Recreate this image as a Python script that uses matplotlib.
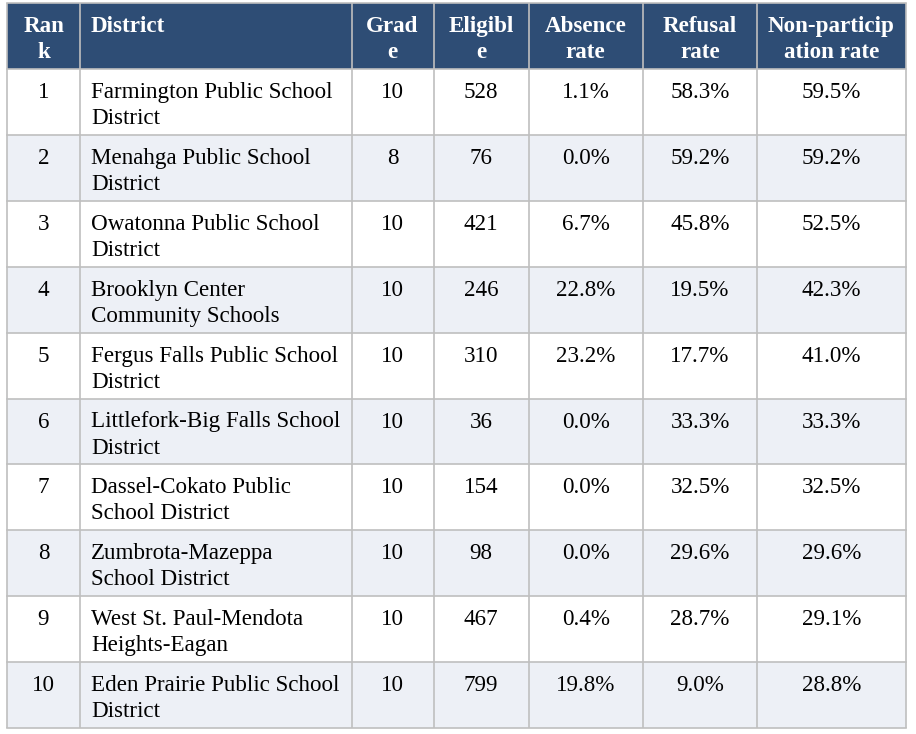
import matplotlib.pyplot as plt
from matplotlib.patches import Rectangle

headers = ["Ran\nk", "District", "Grad\ne", "Eligibl\ne", "Absence\nrate", "Refusal\nrate",
           "Non-particip\nation rate"]
ranks = [1, 2, 3, 4, 5, 6, 7, 8, 9, 10]
districts = [
    "Farmington Public School\nDistrict",
    "Menahga Public School\nDistrict",
    "Owatonna Public School\nDistrict",
    "Brooklyn Center\nCommunity Schools",
    "Fergus Falls Public School\nDistrict",
    "Littlefork-Big Falls School\nDistrict",
    "Dassel-Cokato Public\nSchool District",
    "Zumbrota-Mazeppa\nSchool District",
    "West St. Paul-Mendota\nHeights-Eagan",
    "Eden Prairie Public School\nDistrict",
]
grades = [10, 8, 10, 10, 10, 10, 10, 10, 10, 10]
eligible = [528, 76, 421, 246, 310, 36, 154, 98, 467, 799]
absence = [1.1, 0.0, 6.7, 22.8, 23.2, 0.0, 0.0, 0.0, 0.4, 19.8]
refusal = [58.3, 59.2, 45.8, 19.5, 17.7, 33.3, 32.5, 29.6, 28.7, 9.0]
nonpart = [59.5, 59.2, 52.5, 42.3, 41.0, 33.3, 32.5, 29.6, 29.1, 28.8]

# layout in pixels
col_edges = [7, 80, 351.5, 433.5, 528.5, 643, 757, 906]
top = 3
header_h = 66
row_h = 65.9
line_gap = 26
base_off = 29
pad_left = 11

header_color = "#2E4D75"
alt_color = "#EDF0F6"
border = "#BFBFBF"
font = "Liberation Serif"
fs = 16.6

fig = plt.figure(figsize=(9.16, 7.34), dpi=100)
ax = fig.add_axes([0, 0, 1, 1])
ax.set_xlim(0, 916)
ax.set_ylim(734, 0)
ax.axis("off")

n_rows = len(ranks)
bottom = top + header_h + n_rows * row_h
left, right = col_edges[0], col_edges[-1]

# backgrounds
ax.add_patch(Rectangle((left, top), right - left, header_h, color=header_color, lw=0))
for i in range(n_rows):
    y0 = top + header_h + i * row_h
    fc = alt_color if i % 2 == 1 else "white"
    ax.add_patch(Rectangle((left, y0), right - left, row_h, color=fc, lw=0))

# grid lines
for x in col_edges:
    ax.plot([x, x], [top, bottom], color=border, lw=1.2, solid_capstyle="butt")
ax.plot([left, right], [top, top], color=border, lw=1.2)
for i in range(n_rows + 1):
    y = top + header_h + i * row_h
    ax.plot([left, right], [y, y], color=border, lw=1.2)


def cell_text(col, y0, text, color, weight):
    x0, x1 = col_edges[col], col_edges[col + 1]
    for k, line in enumerate(text.split("\n")):
        yb = y0 + base_off + k * line_gap
        if col == 1:
            ax.text(x0 + pad_left, yb, line, ha="left", va="baseline", color=color,
                    fontsize=fs, fontweight=weight, family=font)
        else:
            ax.text((x0 + x1) / 2, yb, line, ha="center", va="baseline", color=color,
                    fontsize=fs, fontweight=weight, family=font)


for c, h in enumerate(headers):
    cell_text(c, top, h, "white", "bold")

for i in range(n_rows):
    y0 = top + header_h + i * row_h
    vals = [str(ranks[i]), districts[i], str(grades[i]), str(eligible[i]),
            f"{absence[i]:.1f}%", f"{refusal[i]:.1f}%", f"{nonpart[i]:.1f}%"]
    for c, v in enumerate(vals):
        cell_text(c, y0, v, "black", "normal")

fig.savefig("out.png", dpi=100)
